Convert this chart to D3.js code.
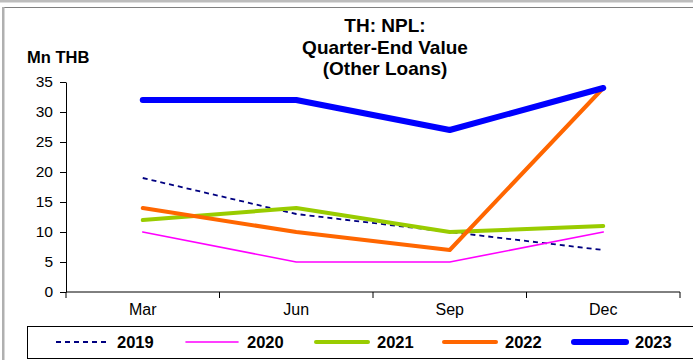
<!DOCTYPE html>
<html>
<head>
<meta charset="utf-8">
<script src="https://cdn.jsdelivr.net/npm/d3@7/dist/d3.min.js"></script>
<style>
  html, body { margin: 0; padding: 0; background: #fff; }
  svg { display: block; font-family: "Liberation Sans", Arial, sans-serif; }
</style>
</head>
<body>
<svg id="chart" width="693" height="360"></svg>
<script>
// Quarter-end NPL values for other loans, Mn THB
const quarters = ["Mar", "Jun", "Sep", "Dec"];
const years = ["2019", "2020", "2021", "2022", "2023"];
const v2019 = [19, 13, 10, 7];
const v2020 = [10, 5, 5, 10];
const v2021 = [12, 14, 10, 11];
const v2022 = [14, 10, 7, 34];
const v2023 = [32, 32, 27, 34];
const yTicks = [0, 5, 10, 15, 20, 25, 30, 35];
const titleLines = ["TH: NPL:", "Quarter-End Value", "(Other Loans)"];

const seriesValues = [v2019, v2020, v2021, v2022, v2023];
const styles = [
  { color: "#000080", width: 1.8, dash: "5,4" },
  { color: "#FF00FF", width: 1.6, dash: null },
  { color: "#99CC00", width: 4, dash: null },
  { color: "#FF6600", width: 4, dash: null },
  { color: "#0000FF", width: 6, dash: null }
];
const series = years.map((y, i) => ({ year: y, values: seriesValues[i], style: styles[i] }));

const svg = d3.select("#chart");

// outer frame
svg.append("rect").attr("x", 0).attr("y", 0).attr("width", 693).attr("height", 2.5).attr("fill", "#bdbdbd");
svg.append("line").attr("x1", 3).attr("x2", 693).attr("y1", 7.5).attr("y2", 7.5)
  .attr("stroke", "#808080").attr("stroke-width", 1);
svg.append("rect").attr("x", 2).attr("y", 7).attr("width", 2.5).attr("height", 353).attr("fill", "#b0b0b0");

const plot = { left: 66, right: 680, top: 82, bottom: 292 };

const x = d3.scaleBand().domain(quarters).range([plot.left, plot.right]);
const y = d3.scaleLinear().domain([0, 35]).range([plot.bottom, plot.top]);

// y axis
const yAxis = svg.append("g").attr("transform", `translate(${plot.left},0)`)
  .call(d3.axisLeft(y).tickValues(yTicks).tickSize(6).tickPadding(7).tickSizeOuter(0));
yAxis.select(".domain").attr("stroke", "#000");
yAxis.selectAll(".tick line").attr("stroke", "#000");
yAxis.selectAll("text").attr("font-size", 15.5).attr("fill", "#000")
  .attr("font-family", "Liberation Sans, Arial, sans-serif");

// x axis: ticks at category boundaries
const xAxisG = svg.append("g").attr("transform", `translate(0,${plot.bottom})`);
xAxisG.append("line").attr("x1", plot.left).attr("x2", plot.right).attr("y1", 0).attr("y2", 0)
  .attr("stroke", "#000");
const boundaries = quarters.map(q => x(q)).concat([plot.right]);
xAxisG.selectAll("line.tk").data(boundaries).enter().append("line").attr("class", "tk")
  .attr("x1", d => d).attr("x2", d => d).attr("y1", 0).attr("y2", 6).attr("stroke", "#000");
xAxisG.selectAll("text").data(quarters).enter().append("text")
  .attr("x", d => x(d) + x.bandwidth() / 2).attr("y", 23)
  .attr("text-anchor", "middle").attr("font-size", 16).attr("fill", "#000").text(d => d);

// title
svg.append("text").attr("x", 385).attr("text-anchor", "middle")
  .attr("font-size", 19).attr("font-weight", "bold")
  .selectAll("tspan").data(titleLines).enter().append("tspan")
  .attr("x", 385).attr("y", (d, i) => 32 + i * 21.5).text(d => d);

svg.append("text").attr("x", 27).attr("y", 63).attr("font-size", 16.5).attr("font-weight", "bold")
  .text("Mn THB");

// lines
const line = d3.line()
  .x((d, i) => x(quarters[i]) + x.bandwidth() / 2)
  .y(d => y(d));

svg.append("g").selectAll("path").data(series).enter().append("path")
  .attr("d", d => line(d.values))
  .attr("fill", "none")
  .attr("stroke", d => d.style.color)
  .attr("stroke-width", d => d.style.width)
  .attr("stroke-dasharray", d => d.style.dash)
  .attr("stroke-linejoin", "round")
  .attr("stroke-linecap", d => d.style.dash ? "butt" : "round");

// legend
const lg = svg.append("g");
lg.append("rect").attr("x", 27.5).attr("y", 326.5).attr("width", 680).attr("height", 32)
  .attr("fill", "#fff").attr("stroke", "#000").attr("stroke-width", 1);
const legendX = [56, 186, 316, 444, 574];
const items = lg.selectAll("g.item").data(series).enter().append("g").attr("class", "item")
  .attr("transform", (d, i) => `translate(${legendX[i]},342)`);
items.append("line").attr("x1", 0).attr("x2", 52).attr("y1", 0).attr("y2", 0)
  .attr("stroke", d => d.style.color)
  .attr("stroke-width", d => d.style.width)
  .attr("stroke-dasharray", d => d.style.dash)
  .attr("stroke-linecap", d => d.style.dash ? "butt" : "round");
items.append("text").attr("x", 61).attr("y", 6).attr("font-size", 16.5).attr("font-weight", "bold")
  .text(d => d.year);
</script>
</body>
</html>
